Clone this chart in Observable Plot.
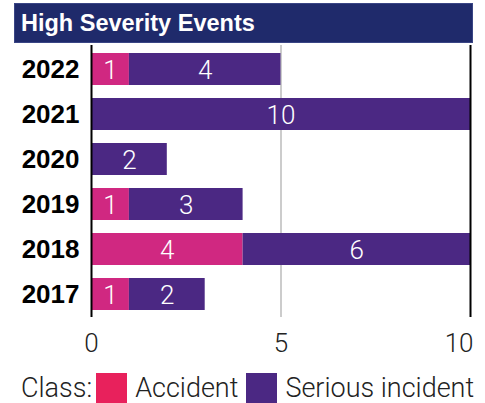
<!DOCTYPE html>
<html>
<head>
<meta charset="utf-8">
<script src="https://cdn.jsdelivr.net/npm/d3@7"></script>
<script src="https://cdn.jsdelivr.net/npm/@observablehq/plot@0.6"></script>
<style>
  body { margin: 0; background: #fff; width: 485px; height: 403px; overflow: hidden; }
  #title { position: absolute; left: 14px; top: 3px; width: 452px; height: 40px; padding-left: 7px;
    background: #1f2a6b; color: #fff; font: bold 23.5px "Liberation Sans", Arial, sans-serif; line-height: 41px;
    box-shadow: inset 0 0 0 1px #3a4585; }
  #chart { position: absolute; left: 0; top: 43px; }
  #legend { position: absolute; left: 21px; top: 373px; height: 30px; display: flex; align-items: center;
    font: 300 27px Roboto, sans-serif; color: #222; white-space: nowrap; }
  .sw { display: inline-block; width: 31px; height: 30px; margin: 0 8px 0 4px; }
</style>
</head>
<body>
<div id="title">High Severity Events</div>
<div id="chart"></div>
<div id="legend">Class:<span class="sw" style="background:#e8215c"></span>Accident<span class="sw" style="background:#4b2883;margin-left:8px"></span>Serious incident</div>
<script>
const years = ["2022", "2021", "2020", "2019", "2018", "2017"];
const accident = [1, 0, 0, 1, 4, 1];
const serious = [4, 10, 2, 3, 6, 2];
const classes = ["Accident", "Serious incident"];
const xTicks = [0, 5, 10];

const data = [];
years.forEach((y, i) => {
  data.push({year: y, cls: classes[0], value: accident[i]});
  data.push({year: y, cls: classes[1], value: serious[i]});
});

const lastTick = xTicks[xTicks.length - 1];

const plot = Plot.plot({
  width: 485,
  height: 320,
  marginLeft: 91,
  marginRight: 15,
  marginTop: 2,
  marginBottom: 46,
  style: {fontFamily: "Roboto, sans-serif", background: "transparent"},
  x: {domain: [0, 10], label: null},
  y: {domain: years, paddingInner: 0.29, paddingOuter: 0.145, label: null},
  color: {domain: classes, range: ["#d02881", "#4b2883"]},
  marks: [
    Plot.ruleX([5], {stroke: "#cccccc", strokeWidth: 2}),
    Plot.barX(data, Plot.stackX({x: "value", y: "year", fill: "cls", z: "cls", inset: 0})),
    Plot.ruleX([0, 10], {stroke: "#000", strokeWidth: 2}),
    Plot.text(data, Plot.stackX({x: "value", y: "year", z: "cls", text: d => d.value > 0 ? String(d.value) : "", fill: "#fff", fontSize: 26, fontWeight: 300, dy: 1})),
    Plot.axisY({tickSize: 0, tickPadding: 12, fontSize: 26, fontWeight: "bold", fontFamily: "Liberation Sans, Arial, sans-serif", color: "#000", label: null}),
    Plot.axisX({ticks: xTicks.filter(t => t !== lastTick), tickSize: 0, tickPadding: 16, fontSize: 26, fontWeight: 300, color: "#222", label: null}),
    Plot.axisX({ticks: [lastTick], tickSize: 0, tickPadding: 16, fontSize: 26, fontWeight: 300, color: "#222", label: null, textAnchor: "end", dx: 3})
  ]
});
document.getElementById("chart").appendChild(plot);
</script>
</body>
</html>
